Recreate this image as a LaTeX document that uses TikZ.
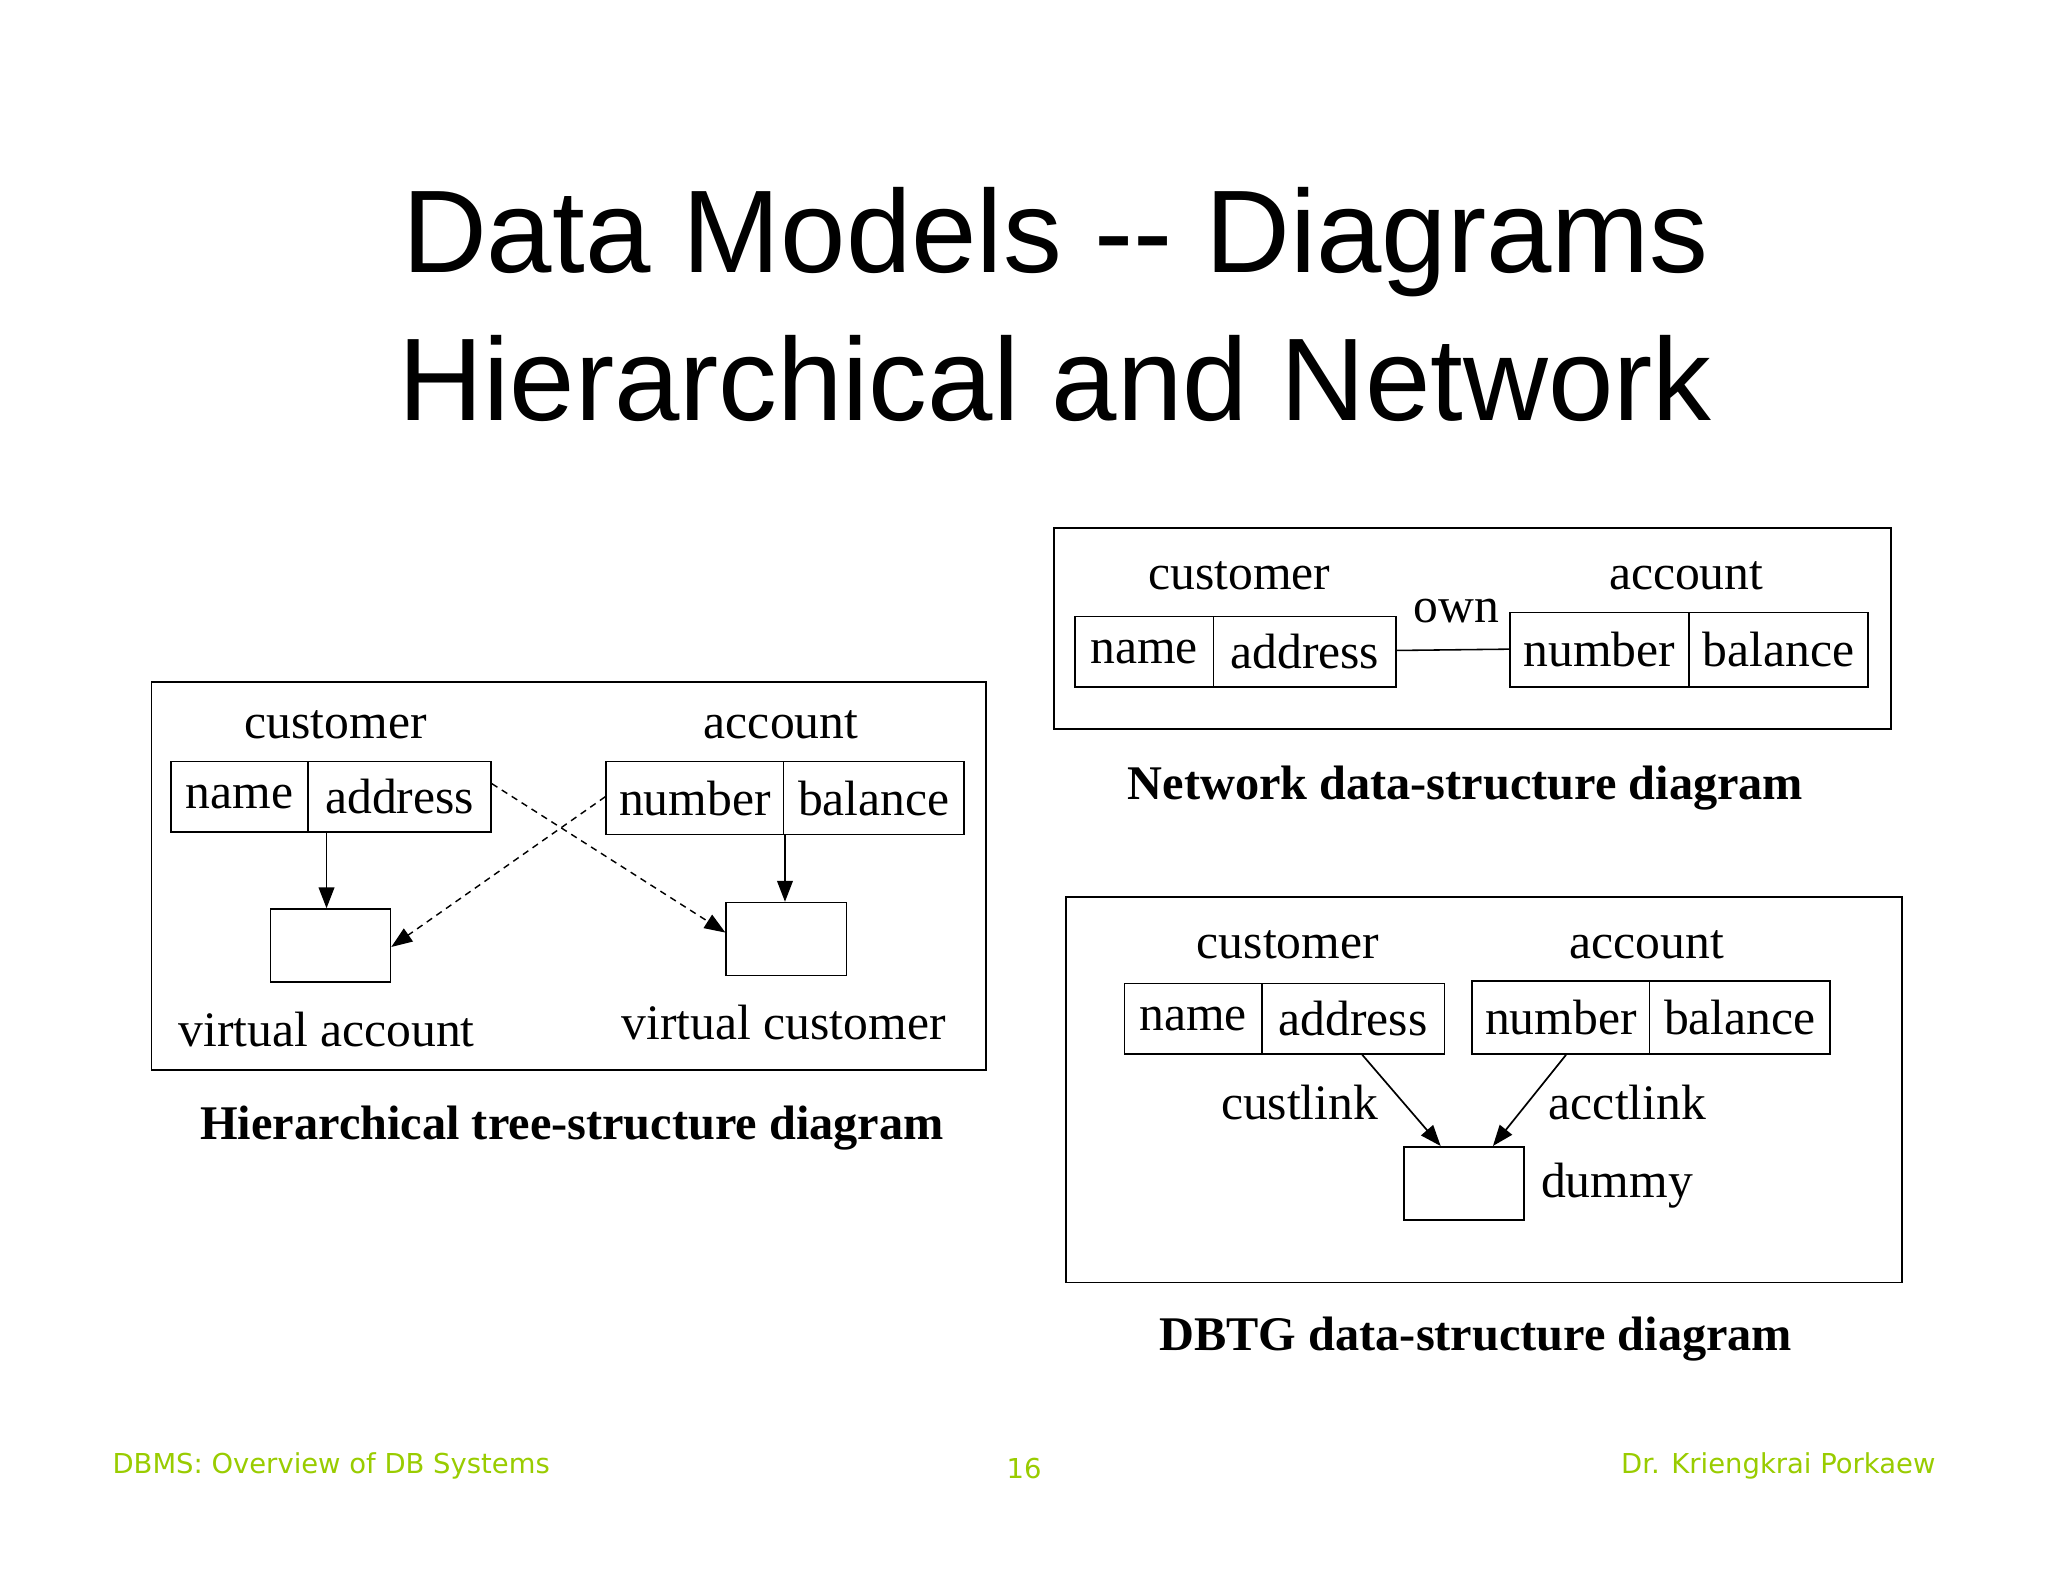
\documentclass[tikz,border=0pt]{standalone}
\usepackage{fontspec}
\setmainfont{Liberation Serif}
\newfontfamily\titlefont{Liberation Sans}
\newfontfamily\footfont{DejaVu Sans}
\usetikzlibrary{arrows.meta}
\definecolor{footgreen}{RGB}{153,204,0}
\begin{document}
\begin{tikzpicture}[x=1pt,y=-1pt,
  fld/.style={draw,line width=1.2pt,inner sep=0pt,font=\fontsize{38}{40}\selectfont},
  lbl/.style={inner sep=0pt,font=\fontsize{38}{40}\selectfont},
  captext/.style={inner sep=0pt,font=\fontsize{37}{40}\selectfont\bfseries},
  frame/.style={draw,line width=1.3pt},
  arr/.style={line width=1.3pt,-{Triangle[length=16pt,width=12pt]}},
  darr/.style={line width=1.1pt,dash pattern=on 5pt off 4pt,-{Triangle[length=16pt,width=12pt]}},
  foot/.style={inner sep=0pt,text=footgreen,font=\footfont\fontsize{21}{24}\selectfont}]
\useasboundingbox[fill=white] (0,0) rectangle (1568,1211);
\node[inner sep=0pt,font=\titlefont\fontsize{90}{100}\selectfont] (t1) at (808,185) {Data Models -- Diagrams};
\node[inner sep=0pt,font=\titlefont\fontsize{90}{100}\selectfont] (t2) at (808,290) {Hierarchical and Network};
% Hierarchical
\node[frame,minimum width=639pt,minimum height=297pt,inner sep=0pt] (hbox) at (435.5,670.5) {};
\node[lbl] (hc) at (257,555) {customer};
\node[fld,minimum width=105pt,minimum height=54pt] (hname) at (183.5,610) {name};
\node[fld,minimum width=140pt,minimum height=54pt] (haddr) at (306,610) {address};
\node[lbl] (ha) at (598,555) {account};
\node[fld,minimum width=136pt,minimum height=56pt] (hnum) at (532,611) {number};
\node[fld,minimum width=138pt,minimum height=56pt] (hbal) at (669,611) {balance};
\node[draw,line width=1.2pt,minimum width=92pt,minimum height=56pt,inner sep=0pt] (va) at (253,724) {};
\node[draw,line width=1.2pt,minimum width=92pt,minimum height=56pt,inner sep=0pt] (vc) at (602,719) {};
\draw[arr] (haddr.south west -| 250,637) -- (va.north -| 250,0);
\draw[arr] (601,639) -- (vc.north -| 601,0);
\draw[darr] (haddr.east |- 0,600) -- (vc.west |- 0,714);
\draw[darr] (hnum.west |- 0,610) -- (va.east |- 0,725);
\node[lbl] (val) at (250,788) {virtual account};
\node[lbl] (vcl) at (600,783) {virtual customer};
\node[captext] (hcap) at (438,864) {Hierarchical tree-structure diagram};
% Network
\node[frame,minimum width=641pt,minimum height=154pt,inner sep=0pt] (nbox) at (1127.5,481) {};
\node[lbl] (nc) at (949,441) {customer};
\node[fld,minimum width=106pt,minimum height=54pt] (nname) at (876,499) {name};
\node[fld,minimum width=140pt,minimum height=54pt] (naddr) at (999,499) {address};
\node[lbl] (na) at (1291,441) {account};
\node[fld,minimum width=137pt,minimum height=57pt] (nnum) at (1224.5,497.5) {number};
\node[fld,minimum width=137pt,minimum height=57pt] (nbal) at (1361.5,497.5) {balance};
\node[lbl] (own) at (1115,468) {own};
\draw[line width=1.2pt] (naddr.east |- 0,498) -- (nnum.west |- 0,497);
\node[captext] (ncap) at (1122,603) {Network data-structure diagram};
% DBTG
\node[frame,minimum width=640pt,minimum height=295pt,inner sep=0pt] (dbox) at (1136,834.5) {};
\node[lbl] (dc) at (986,723) {customer};
\node[fld,minimum width=105pt,minimum height=54pt] (dname) at (913.5,780) {name};
\node[fld,minimum width=140pt,minimum height=54pt] (daddr) at (1036,780) {address};
\node[lbl] (da) at (1261,723) {account};
\node[fld,minimum width=136pt,minimum height=56pt] (dnum) at (1195,779) {number};
\node[fld,minimum width=138pt,minimum height=56pt] (dbal) at (1332,779) {balance};
\node[draw,line width=1.2pt,minimum width=92pt,minimum height=56pt,inner sep=0pt] (dum) at (1121,906) {};
\draw[arr] (daddr.south -| 1043,0) -- (dum.north -| 1103,0);
\draw[arr] (dnum.south -| 1199,0) -- (dum.north -| 1143,0);
\node[lbl] (cl) at (995,844) {custlink};
\node[lbl] (al) at (1246,844) {acctlink};
\node[lbl] (dl) at (1238,908) {dummy};
\node[captext] (dcap) at (1130,1025) {DBTG data-structure diagram};
% footer
\node[foot,anchor=west] (f1) at (86,1122) {DBMS: Overview of DB Systems};
\node[foot] (f2) at (784,1124) {16};
\node[foot,anchor=east] (f3) at (1482,1122) {Dr. Kriengkrai Porkaew};
\end{tikzpicture}
\end{document}
